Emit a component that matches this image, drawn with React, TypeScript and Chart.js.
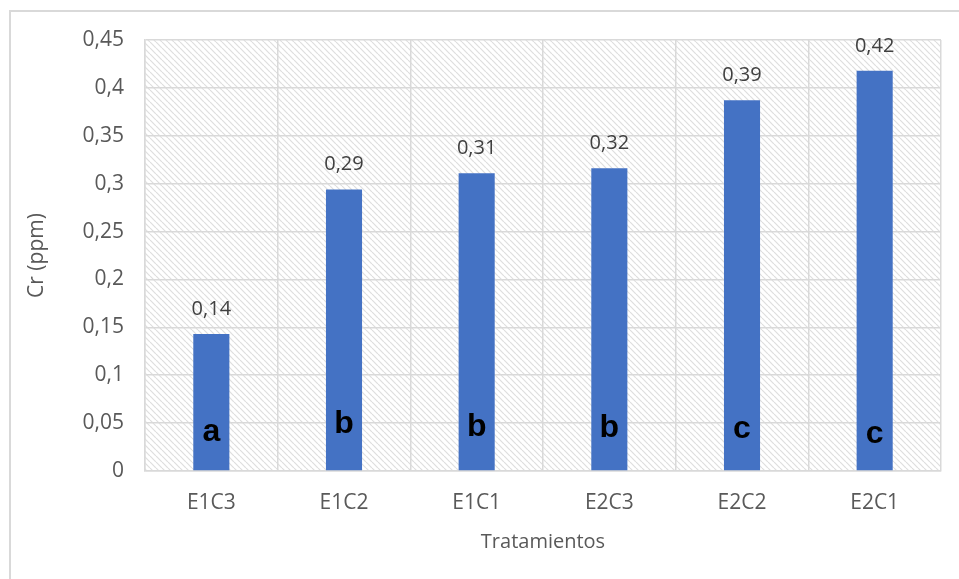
import React, { useEffect, useRef } from "react";
import { Chart, registerables } from "chart.js";

Chart.register(...registerables);

// Chromium content per treatment (ppm)
const categories = ["E1C3", "E1C2", "E1C1", "E2C3", "E2C2", "E2C1"];
const crValues = [0.143, 0.294, 0.311, 0.316, 0.387, 0.418];
// Significance groups and the baseline level (ppm) where each letter sits inside its bar
const groupLetters = ["a", "b", "b", "b", "c", "c"];
const letterLevels = [0.031, 0.04, 0.037, 0.036, 0.034, 0.029];

const yMin = 0;
const yMax = 0.45;
const yStep = 0.05;

const FONT = "'Open Sans', 'Noto Sans', sans-serif";
const GRID = "#d9d9d9";
const TEXT = "#595959";

const fmtComma = (v: number, digits: number) =>
  Number(v.toFixed(digits)).toString().replace(".", ",");

function makeHatch(): CanvasPattern | string {
  const s = 6;
  const c = document.createElement("canvas");
  c.width = s;
  c.height = s;
  const g = c.getContext("2d");
  if (!g) return "#ffffff";
  g.fillStyle = "#ffffff";
  g.fillRect(0, 0, s, s);
  g.strokeStyle = "#dedede";
  g.lineWidth = 1.2;
  for (const a of [-s, 0, s]) {
    g.beginPath();
    g.moveTo(a, 0);
    g.lineTo(a + s, s);
    g.stroke();
  }
  const p = g.createPattern(c, "repeat");
  return p || "#ffffff";
}

export default function App() {
  const ref = useRef<HTMLCanvasElement | null>(null);

  useEffect(() => {
    if (!ref.current) return;
    const hatch = makeHatch();

    const plotBackground = {
      id: "plotBackground",
      beforeDraw(chart: any) {
        const { ctx, chartArea: a } = chart;
        ctx.save();
        ctx.fillStyle = hatch;
        ctx.fillRect(a.left, a.top, a.right - a.left, a.bottom - a.top);
        ctx.restore();
      },
    };

    const barLabels = {
      id: "barLabels",
      afterDatasetsDraw(chart: any) {
        const { ctx } = chart;
        const meta = chart.getDatasetMeta(0);
        const yScale = chart.scales.y;
        ctx.save();
        ctx.textAlign = "center";
        ctx.textBaseline = "alphabetic";
        meta.data.forEach((bar: any, i: number) => {
          ctx.font = `20px ${FONT}`;
          ctx.fillStyle = "#404040";
          ctx.fillText(fmtComma(crValues[i], 2), bar.x, bar.y - 19);
          ctx.font = "bold 32px 'Liberation Sans', Arial, sans-serif";
          ctx.fillStyle = "#000000";
          ctx.fillText(groupLetters[i], bar.x, yScale.getPixelForValue(letterLevels[i]));
        });
        ctx.restore();
      },
    };

    const chart = new Chart(ref.current, {
      type: "bar",
      data: {
        labels: categories,
        datasets: [
          {
            label: "Cr (ppm)",
            data: crValues,
            backgroundColor: "#4472c4",
            borderWidth: 0,
            categoryPercentage: 1,
            barPercentage: 0.272,
          },
        ],
      },
      options: {
        responsive: false,
        animation: false,
        devicePixelRatio: 1,
        layout: { padding: { top: 40, right: 18, left: 0, bottom: 0 } },
        plugins: {
          legend: { display: false },
          tooltip: { enabled: false },
        },
        scales: {
          x: {
            grid: { color: GRID, lineWidth: 1.5, drawTicks: false, offset: true },
            border: { color: GRID, width: 1.5 },
            ticks: {
              color: TEXT,
              font: { family: FONT, size: 21 },
              padding: 19,
            },
            title: {
              display: true,
              text: "Tratamientos",
              color: TEXT,
              font: { family: FONT, size: 20 },
              padding: { top: 0, bottom: 25 },
            },
            afterFit(scale: any) {
              scale.height = 108;
            },
          },
          y: {
            min: yMin,
            max: yMax,
            grid: { color: GRID, lineWidth: 1.5, drawTicks: false },
            border: { color: GRID, width: 1.5 },
            ticks: {
              stepSize: yStep,
              color: TEXT,
              font: { family: FONT, size: 21 },
              padding: 21,
              callback: (v: any) => fmtComma(Number(v), 2),
            },
            title: {
              display: true,
              text: "Cr (ppm)",
              color: TEXT,
              font: { family: FONT, size: 21 },
              padding: { top: 24, bottom: 0 },
            },
            afterFit(scale: any) {
              scale.width = 145;
            },
          },
        },
      },
      plugins: [plotBackground, barLabels],
    });

    return () => chart.destroy();
  }, []);

  return (
    <div
      style={{
        position: "fixed",
        left: 0,
        top: 0,
        width: 959,
        height: 579,
        overflow: "hidden",
        background: "#ffffff",
      }}
    >
      <div
        style={{
          position: "absolute",
          left: 9,
          top: 10,
          width: 1000,
          height: 1000,
          borderLeft: "2px solid #d9d9d9",
          borderTop: "2px solid #d9d9d9",
        }}
      />
      <canvas
        ref={ref}
        width={959}
        height={579}
        style={{ position: "absolute", left: 0, top: 0, width: 959, height: 579 }}
      />
    </div>
  );
}
